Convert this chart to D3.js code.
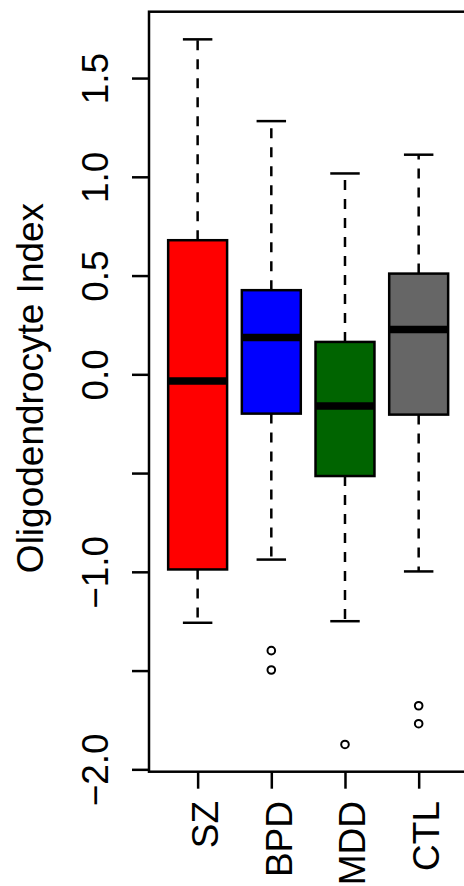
<!DOCTYPE html>
<html>
<head>
<meta charset="utf-8">
<script src="https://cdn.jsdelivr.net/npm/d3@7"></script>
<style>
    body { margin: 0; background: #fff; }
    svg text { font-family: "Liberation Sans", Arial, Helvetica, sans-serif; fill: #000; }
</style>
</head>
<body>
<div id="chart"></div>
<script>
// Data (five-number summaries + outliers)
var groups = ["SZ", "BPD", "MDD", "CTL"];
var boxColors = ["#FF0000", "#0000FF", "#006400", "#666666"];
var lowerWhisker = [-1.258, -0.938, -1.250, -0.998];
var q1 = [-0.988, -0.199, -0.515, -0.204];
var median = [-0.034, 0.186, -0.161, 0.227];
var q3 = [0.679, 0.426, 0.164, 0.510];
var upperWhisker = [1.696, 1.282, 1.017, 1.112];
var outliers = [[], [-1.399, -1.497], [-1.874], [-1.678, -1.769]];
var yTicks = [-2.0, -1.5, -1.0, -0.5, 0.0, 0.5, 1.0, 1.5];
var yTickLabels = ["\u22122.0", "", "\u22121.0", "", "0.0", "0.5", "1.0", "1.5"];
var yTitle = "Oligodendrocyte Index";

function buildBoxplot() {
    var width = 464,
        height = 886;

    // plot region (right side runs off the picture, like the reference)
    var left = 149, top = 11.7, right = 467.3, bottom = 771.7;

    var svg = d3.select("#chart")
        .append("svg")
        .attr("width", width)
        .attr("height", height);

    var x = d3.scaleLinear()
        .domain([0.34, 4.66])
        .range([left, right]);

    var y = d3.scaleLinear()
        .domain([-2.012, 1.836])
        .range([bottom, top]);

    var unit = x(1) - x(0);
    var boxW = 0.8 * unit,
        capW = 0.4 * unit;

    var rows = groups.map(function(g, i) {
        return {name: g, pos: i + 1, color: boxColors[i],
                lo: lowerWhisker[i], q1: q1[i], med: median[i], q3: q3[i], hi: upperWhisker[i],
                out: outliers[i]};
    });

    var g = svg.selectAll("g.box")
        .data(rows)
        .enter()
        .append("g")
        .attr("class", "box");

    // dashed whiskers start at the box edges
    g.append("line")
        .attr("x1", function(d) { return x(d.pos); })
        .attr("x2", function(d) { return x(d.pos); })
        .attr("y1", function(d) { return y(d.q3); })
        .attr("y2", function(d) { return y(d.hi); })
        .attr("stroke", "#000")
        .attr("stroke-width", 2.5)
        .attr("stroke-dasharray", "10,9");
    g.append("line")
        .attr("x1", function(d) { return x(d.pos); })
        .attr("x2", function(d) { return x(d.pos); })
        .attr("y1", function(d) { return y(d.q1); })
        .attr("y2", function(d) { return y(d.lo); })
        .attr("stroke", "#000")
        .attr("stroke-width", 2.5)
        .attr("stroke-dasharray", "10,9");

    // staples
    ["lo", "hi"].forEach(function(k) {
        g.append("line")
            .attr("x1", function(d) { return x(d.pos) - capW / 2; })
            .attr("x2", function(d) { return x(d.pos) + capW / 2; })
            .attr("y1", function(d) { return y(d[k]); })
            .attr("y2", function(d) { return y(d[k]); })
            .attr("stroke", "#000")
            .attr("stroke-width", 2.5);
    });

    // boxes
    g.append("rect")
        .attr("x", function(d) { return x(d.pos) - boxW / 2; })
        .attr("y", function(d) { return y(d.q3); })
        .attr("width", boxW)
        .attr("height", function(d) { return y(d.q1) - y(d.q3); })
        .attr("fill", function(d) { return d.color; })
        .attr("stroke", "#000")
        .attr("stroke-width", 2.5);

    // medians
    g.append("line")
        .attr("x1", function(d) { return x(d.pos) - boxW / 2; })
        .attr("x2", function(d) { return x(d.pos) + boxW / 2; })
        .attr("y1", function(d) { return y(d.med); })
        .attr("y2", function(d) { return y(d.med); })
        .attr("stroke", "#000")
        .attr("stroke-width", 7.5);

    // outliers
    g.selectAll("circle")
        .data(function(d) { return d.out.map(function(v) { return {pos: d.pos, v: v}; }); })
        .enter()
        .append("circle")
        .attr("cx", function(d) { return x(d.pos); })
        .attr("cy", function(d) { return y(d.v); })
        .attr("r", 3.8)
        .attr("fill", "none")
        .attr("stroke", "#000")
        .attr("stroke-width", 2);

    // frame
    svg.append("rect")
        .attr("x", left)
        .attr("y", top)
        .attr("width", right - left)
        .attr("height", bottom - top)
        .attr("fill", "none")
        .attr("stroke", "#000")
        .attr("stroke-width", 2.5);

    // Y axis
    var yAxis = svg.append("g")
        .attr("transform", "translate(" + left + ",0)")
        .call(d3.axisLeft(y)
            .tickValues(yTicks)
            .tickSize(17)
            .tickFormat(function(d, i) { return yTickLabels[i]; }));
    yAxis.select(".domain").remove();
    yAxis.selectAll(".tick line").attr("stroke-width", 2.5);
    yAxis.selectAll(".tick text")
        .attr("transform", "rotate(-90)")
        .attr("x", 0)
        .attr("y", -40.7)
        .attr("dy", null)
        .attr("text-anchor", "middle")
        .style("font-size", "37px");

    // X axis
    var xAxis = svg.append("g")
        .attr("transform", "translate(0," + bottom + ")")
        .call(d3.axisBottom(x)
            .tickValues([1, 2, 3, 4])
            .tickSize(17)
            .tickFormat(function(d) { return groups[d - 1]; }));
    xAxis.select(".domain").remove();
    xAxis.selectAll(".tick line").attr("stroke-width", 2.5);
    xAxis.selectAll(".tick text")
        .attr("transform", "rotate(-90)")
        .attr("x", -29.3)
        .attr("y", 20)
        .attr("dy", null)
        .attr("text-anchor", "end")
        .style("font-size", "37px");

    // Y title
    svg.append("text")
        .attr("transform", "translate(42.7," + 388 + ") rotate(-90)")
        .attr("text-anchor", "middle")
        .style("font-size", "37px")
        .text(yTitle);
}

buildBoxplot();
</script>
</body>
</html>
